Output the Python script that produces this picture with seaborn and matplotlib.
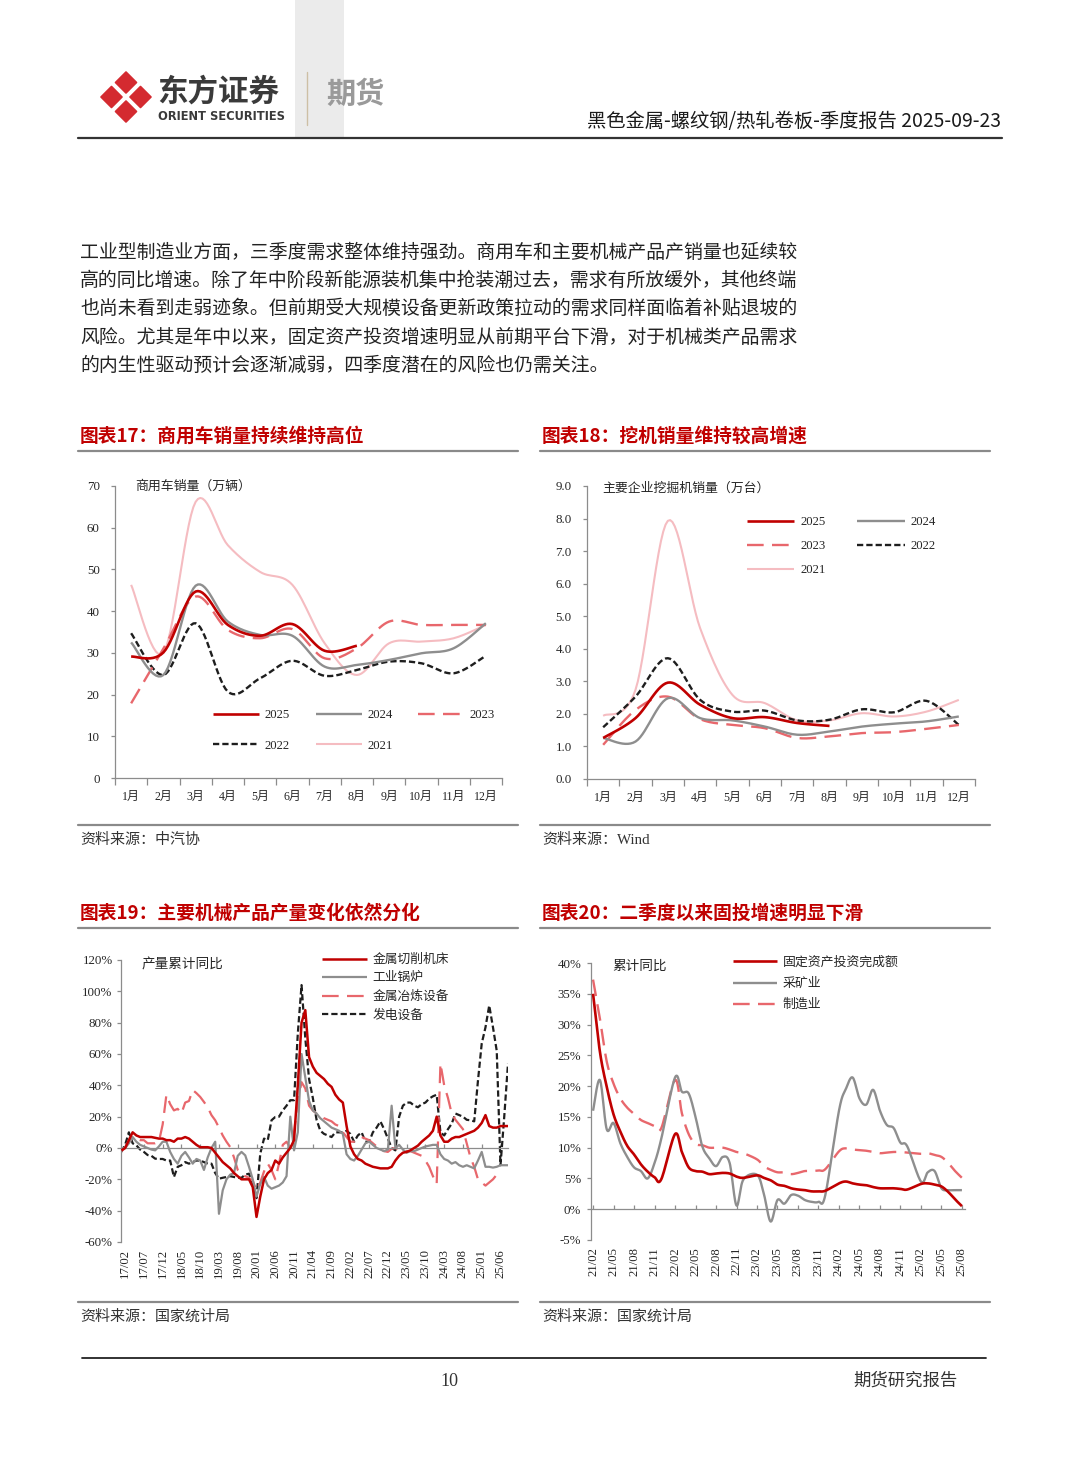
import numpy as np
import pandas as pd
import seaborn as sns
import matplotlib.pyplot as plt
from matplotlib.patches import Polygon, Rectangle

sns.set_theme(style='white')
plt.rcParams['font.family'] = ['Noto Sans CJK SC', 'DejaVu Sans']
plt.rcParams['axes.unicode_minus'] = False
plt.rcParams['lines.scale_dashes'] = False

CJK = ['Noto Sans CJK SC', 'DejaVu Sans']
SERIF = ['Liberation Serif', 'Noto Sans CJK SC']

C_RED = '#C00000'
C_GRAY = '#8E8E8E'
C_LRED = '#E8676C'
C_BLACK = '#1E1E1E'
C_PINK = '#F5BCC1'
C_AXIS = '#8C8C8C'
C_TEXT = '#262626'
nan = np.nan

# ---------------- 图表17：商用车销量（万辆）
months = ['1月', '2月', '3月', '4月', '5月', '6月', '7月', '8月', '9月', '10月', '11月', '12月']
truck_2025 = [29.1, 30.1, 44.7, 36.7, 34.1, 36.9, 30.5, 31.7]
truck_2024 = [32.5, 24.7, 46.1, 37.5, 34.3, 34.1, 26.7, 27.1, 28.3, 29.9, 31.1, 37.1]
truck_2023 = [17.9, 31.0, 43.5, 35.5, 33.5, 35.7, 28.7, 31.1, 37.5, 36.7, 36.7, 36.7]
truck_2022 = [34.7, 24.7, 37.1, 20.7, 23.9, 28.1, 24.5, 25.9, 27.9, 27.5, 25.1, 29.3]
truck_2021 = [46.3, 30.0, 66.2, 55.8, 49.4, 46.3, 32.3, 24.7, 32.3, 32.7, 33.5, 36.7]

# ---------------- 图表18：主要企业挖掘机销量（万台）
exc_2025 = [1.26, 1.87, 2.96, 2.28, 1.87, 1.90, 1.72, 1.63]
exc_2024 = [1.26, 1.15, 2.48, 1.87, 1.80, 1.61, 1.36, 1.46, 1.61, 1.70, 1.77, 1.92]
exc_2023 = [1.05, 2.12, 2.53, 1.84, 1.66, 1.56, 1.26, 1.31, 1.41, 1.44, 1.54, 1.66]
exc_2022 = [1.59, 2.53, 3.71, 2.43, 2.07, 2.10, 1.80, 1.82, 2.14, 2.05, 2.40, 1.66]
exc_2021 = [1.94, 2.74, 7.93, 4.63, 2.58, 2.33, 1.80, 1.80, 2.02, 1.92, 2.07, 2.43]

# ---------------- 图表19：产量累计同比（%），2017/01 - 2025/08
mach_dates = pd.date_range('2017-01-01', '2025-08-01', freq='MS')
machine_tool = [
    -1.5, 0, 5, 10, 8, 7, 7, 7, 7, 6.5, 6, 6,
    5, 5, 4, 6, 6, 7, 6, 4, 2, 0.5, 0.5, 0.5,
    0, -3, -6, -9, -11, -13, -16, -18, -20, -20, -20, -25,
    -44, -31, -20, -16, -14, -8, -10, -6, -3, 0, 5, 40,
    80, 88, 58, 52, 48, 46, 44, 41, 39, 34, 31, 29,
    14, 1, -4, -7, -8, -10, -11, -12, -12.5, -13, -13, -13,
    -12, -8, -5, -3, -2.5, -1.5, 0, 1.5, 4, 6, 8, 11,
    20, 8, 4, 4, 6, 7, 7, 8, 9, 10, 11, 13,
    16, 21, 14, 13, 13, 14, 14, 14]
boiler = [
    0, 0, 3, 7, 4, 2, 1, 0, -1, -1.5, 1, 4,
    4, -2.5, -7, -10, -5, -2.5, -6, -10, -7, -8, -14, -6,
    0, 4, -42, -27, -20, -17, -16, -5, -2.5, -4.7, -12, -20,
    -31, -23, -18.5, -24, -26, -25, -24, -22, -18, 20, -1.5, 10,
    60, 45, 30, 24, 22, 19, 17, 15, 13, 12, 11, 9,
    -4, -7, -8, -5, -1, 3, 4, 2, 0, -1, -2, -1,
    27, 0, 2, -1, -3, -2, -2, -1, 0, 1, 1.5, 2,
    2, -4, -7, -8, -10, -9, -11, -12, -11, -12, -13, -8,
    -2.5, -12, -12, -12.5, -12, -11, -11, -11]
smelting = [
    -2, 0, 5, 5, 6, 5, 5, 3, 3, 3, 4, 15,
    34, 28, 24, 25, 22, 29, 30, 37, 35, 32.6, 29.4, 26,
    21, 17.7, 13, 8, 4, 0.6, -6, -14, -17, -18, -19, -21,
    -27, -22, -15, -10, -14, -20, -10, 2, 4, 0, 10, 30,
    42, 38, 27, 24, 22, 21, 19, 18, 17, 15, 14, 10,
    7, 4, 4, 6, 7, 6, 5, 3, 1, -1, -2, -2.5,
    -0.5, 0, -1, -1.5, -2, -2, -3, -4, -5, -8, -12, -18,
    -23, 54, 40, 32, 22, 18, 15, 12, 3, -6, -12, -20,
    -22, -24, -22, -20, -17, -15, nan, nan]
power = [
    -2.5, 2, 10, 3, 1.7, -1, -2.5, -4.5, -5, -6.8, -7, -7,
    -8, -8, -18.5, -12, -11, -9, -10, -9, -8, -8, -9, -10,
    -10, -16, -19.6, -19, -18.5, -18, -18.5, -19, -19, -17, -16.4, -22.8,
    -32, -3.6, 6, 5, 17.7, 19.8, 20, 24, 27, 30.5, 30.5, 73,
    104, 70, 44, 32, 18, 11, 9, 8, 7, 10, 10, 10,
    11, 9, 4, 8, 10, 4, 4, 10, 13, 17, 12, 6,
    0, -1.5, 20, 27, 29, 29, 27, 26, 28, 29, 31.5, 33,
    34, 10, 8, 12, 15.5, 22, 21, 20, 18, 17.7, 17, 43,
    66.7, 77, 91, 77, 62, -11, 20, 54]

# ---------------- 图表20：累计同比（%），2021/02 - 2025/08（1月无数据）
fai_dates = pd.date_range('2021-02-01', '2025-08-01', freq='MS')
fai_total = [
    35.0, 25.6, 19.9, 15.4, 12.6, 10.3, 8.9, 7.3, 6.1, 5.2, 4.9,
    nan, 12.2, 9.3, 6.8, 6.2, 6.1, 5.7, 5.8, 5.9, 5.8, 5.3, 5.1,
    nan, 5.5, 5.1, 4.7, 4.0, 3.8, 3.4, 3.2, 3.1, 2.9, 2.9, 3.0,
    nan, 4.2, 4.5, 4.2, 4.0, 3.9, 3.6, 3.4, 3.4, 3.4, 3.3, 3.2,
    nan, 4.1, 4.2, 4.0, 3.7, 2.8, 1.6, 0.5]
fai_mining = [
    16, 21, 13, 14, 10.7, 8.5, 6.8, 6.2, 5, 7.5, 11.5,
    nan, 21.4, 19.1, 18.8, 15, 10.2, 8.3, 7, 8.5, 7.5, 0.6, 4.8,
    nan, 5.6, 2.5, -2, 1.5, 0.9, 2.3, 2.2, 1.5, 1.2, 1.2, 2.3,
    nan, 16, 19.5, 21.4, 18, 17, 19.4, 16, 13.7, 13.2, 10.8, 10.2,
    nan, 4.5, 6, 6.2, 3.4, 3.1, 3.1, 3.1]
fai_manu = [
    37.3, 31, 24, 20.4, 18, 16.5, 15.5, 14.5, 14, 13.5, 13.2,
    nan, 21, 15.6, 12.2, 10.6, 10.4, 10, 10, 10, 9.7, 9.3, 9.1,
    nan, 8.1, 7.0, 6.4, 6.0, 6.0, 5.7, 5.9, 6.2, 6.2, 6.3, 6.5,
    nan, 9.4, 9.9, 9.7, 9.6, 9.5, 9.3, 9.1, 9.2, 9.3, 9.3, 9.2,
    nan, 9.0, 9.1, 8.8, 8.5, 7.5, 6.2, 5.1]

paragraph = [
    '工业型制造业方面，三季度需求整体维持强劲。商用车和主要机械产品产销量也延续较',
    '高的同比增速。除了年中阶段新能源装机集中抢装潮过去，需求有所放缓外，其他终端',
    '也尚未看到走弱迹象。但前期受大规模设备更新政策拉动的需求同样面临着补贴退坡的',
    '风险。尤其是年中以来，固定资产投资增速明显从前期平台下滑，对于机械类产品需求',
    '的内生性驱动预计会逐渐减弱，四季度潜在的风险也仍需关注。',
]


def smooth(y, n=14):
    # Excel 风格的平滑线（Catmull-Rom），缺失月份直接连接
    y = np.asarray(y, dtype=float)
    x = np.arange(len(y), dtype=float)
    keep = ~np.isnan(y)
    P = np.column_stack([x[keep], y[keep]])
    P = np.vstack([P[0], P, P[-1]])
    t = np.linspace(0, 1, n, endpoint=False)[:, None]
    out = []
    for k in range(1, len(P) - 2):
        p0, p1, p2, p3 = P[k - 1], P[k], P[k + 1], P[k + 2]
        out.append(0.5 * (2 * p1 + (p2 - p0) * t + (2 * p0 - 5 * p1 + 4 * p2 - p3) * t ** 2
                          + (3 * p1 - p0 - 3 * p2 + p3) * t ** 3))
    out.append(P[-2][None, :])
    out = np.vstack(out)
    return out[:, 0], out[:, 1]


def raw(y):
    y = np.asarray(y, dtype=float)
    x = np.arange(len(y), dtype=float)
    keep = ~np.isnan(y)
    return x[keep], y[keep]


def draw(ax, xy, color, lw, label, dashes=None, z=2):
    x, y = xy
    sns.lineplot(x=x, y=y, ax=ax, color=color, linewidth=lw, sort=False,
                 estimator=None, legend=False, label=label, zorder=z)
    line = ax.lines[-1]
    line.set_solid_capstyle('butt')
    if dashes:
        line.set_dashes(dashes)
    return line


fig = plt.figure(figsize=(10.8, 14.66), dpi=100, facecolor='white')
page = fig.add_axes([0, 0, 1, 1])
page.set_xlim(0, 1080)
page.set_ylim(1466, 0)
page.axis('off')


def add_ax(l, t, r, b):
    ax = fig.add_axes([l / 1080, 1 - b / 1466, (r - l) / 1080, (b - t) / 1466])
    ax.set_facecolor('none')
    for s in ['top', 'right']:
        ax.spines[s].set_visible(False)
    for s in ['left', 'bottom']:
        ax.spines[s].set_color(C_AXIS)
        ax.spines[s].set_linewidth(0.9)
    return ax


# ---------------- 页眉
page.add_patch(Rectangle((295, 0), 49, 137, color='#EBEBEB', lw=0))
cx, cy, h, off = 126, 97, 10.5, 14.5
for dx, dy in [(0, -off), (-off, 0), (off, 0), (0, off)]:
    x0, y0 = cx + dx, cy + dy
    page.add_patch(Polygon([(x0, y0 - h), (x0 + h, y0), (x0, y0 + h), (x0 - h, y0)], closed=True,
                           fc='#D42A30', ec='#D42A30', lw=1.2, joinstyle='round'))
page.text(157, 92, '东方证券', fontsize=22, fontweight='bold', color='#3A3A3A', va='center', ha='left')
page.text(158, 117, 'ORIENT SECURITIES', fontsize=8.3, fontweight='bold', color='#3A3A3A',
          va='center', ha='left', family=['DejaVu Sans'])
page.plot([307, 307], [72, 125], color='#CDBFA5', lw=1)
page.text(326, 94, '期货', fontsize=21, fontweight='bold', color='#9A9A9A', va='center', ha='left')
page.text(1001, 122, '黑色金属-螺纹钢/热轧卷板-季度报告 2025-09-23', fontsize=13.9, color='#1A1A1A',
          va='center', ha='right')
page.plot([78, 1002], [137.5, 137.5], color='#333333', lw=1.6)

# ---------------- 正文
for k, line in enumerate(paragraph):
    page.text(80, 252 + 28.3 * k, line, fontsize=13.6, color='#222222', va='center', ha='left')

# ---------------- 标题、分隔线、来源
titles = [(80, 436, '图表17：商用车销量持续维持高位'), (542, 436, '图表18：挖机销量维持较高增速'),
          (80, 913, '图表19：主要机械产品产量变化依然分化'), (542, 913, '图表20：二季度以来固投增速明显下滑')]
for x, y, s in titles:
    page.text(x, y, s, fontsize=13.5, fontweight='bold', color=C_RED, va='center', ha='left')
for y in [451, 825, 928, 1302]:
    page.plot([78, 518], [y, y], color='#8A8A8A', lw=1.6)
    page.plot([540, 990], [y, y], color='#8A8A8A', lw=1.6)
sources = [(80, 840, '资料来源：中汽协'), (542, 840, '资料来源：Wind'),
           (80, 1317, '资料来源：国家统计局'), (542, 1317, '资料来源：国家统计局')]
for x, y, s in sources:
    page.text(x, y, s, fontsize=10.8, color='#333333', va='center', ha='left',
              family=['Liberation Serif', 'Noto Sans CJK SC'] if 'Wind' in s else CJK)

# ---------------- 页脚
page.plot([82, 986], [1358, 1358], color='#222222', lw=1.3)
page.text(449, 1381, '10', fontsize=13, color='#333333', va='center', ha='center', family=SERIF)
page.text(905, 1381, '期货研究报告', fontsize=12.5, color='#333333', va='center', ha='center')


def legend_at(ax, handles, x, y, ncol, fs, family, hl, cs, ls):
    leg = ax.legend(handles=handles, loc='upper left', bbox_to_anchor=(x, y),
                    bbox_transform=page.transData, ncol=ncol, frameon=False, borderpad=0,
                    borderaxespad=0, handlelength=hl, handletextpad=0.45, columnspacing=cs,
                    labelspacing=ls, prop={'family': family, 'size': fs})
    for t in leg.get_texts():
        t.set_color(C_TEXT)
    return leg


def month_axis(ax, ymax, step, fmt):
    ax.set_xlim(-0.5, 11.5)
    ax.set_ylim(0, ymax)
    ax.set_xticks(range(12))
    ax.set_xticklabels(months, family=SERIF, fontsize=8.6, color=C_TEXT)
    ax.set_xticks(np.arange(-0.5, 12, 1), minor=True)
    ax.tick_params(axis='x', which='major', length=0, pad=9)
    ax.tick_params(axis='x', which='minor', length=5, width=0.9, color=C_AXIS, direction='out', bottom=True)
    ticks = np.arange(0, ymax + step / 2, step)
    ax.set_yticks(ticks)
    ax.set_yticklabels([fmt.format(v) for v in ticks], family=SERIF, fontsize=9.3, color=C_TEXT)
    ax.tick_params(axis='y', length=3, width=0.9, color=C_AXIS, direction='out', left=True, pad=8)


# ---------------- 图表17
ax1 = add_ax(115, 486, 502, 778)
h21 = draw(ax1, smooth(truck_2021), C_PINK, 1.5, '2021', z=1)
h22 = draw(ax1, smooth(truck_2022), C_BLACK, 1.7, '2022', dashes=(4.5, 2.2))
h23 = draw(ax1, smooth(truck_2023), C_LRED, 1.7, '2023', dashes=(12, 6))
h24 = draw(ax1, smooth(truck_2024), C_GRAY, 1.7, '2024')
h25 = draw(ax1, smooth(truck_2025), C_RED, 1.9, '2025', z=3)
month_axis(ax1, 70, 10, '{:.0f}')
ax1.text(135, 486, '商用车销量（万辆）', transform=page.transData, fontsize=9.3, color=C_TEXT, va='center')
legend_at(ax1, [h25, h22, h24, h21, h23], 213, 709, 3, 9.2, SERIF, 3.6, 2.0, 1.45)

# ---------------- 图表18
ax2 = add_ax(587, 486, 975, 779)
e21 = draw(ax2, smooth(exc_2021), C_PINK, 1.5, '2021', z=1)
e22 = draw(ax2, smooth(exc_2022), C_BLACK, 1.7, '2022', dashes=(4.5, 2.2))
e23 = draw(ax2, smooth(exc_2023), C_LRED, 1.7, '2023', dashes=(12, 6))
e24 = draw(ax2, smooth(exc_2024), C_GRAY, 1.7, '2024')
e25 = draw(ax2, smooth(exc_2025), C_RED, 1.9, '2025', z=3)
month_axis(ax2, 9, 1, '{:.1f}')
ax2.text(602, 488, '主要企业挖掘机销量（万台）', transform=page.transData, fontsize=9.3, color=C_TEXT, va='center')
legend_at(ax2, [e25, e23, e21, e24, e22], 747, 516, 2, 9.2, SERIF, 3.7, 2.5, 0.95)


def date_axis(ax, dates, first, every, lo, hi, step, pad):
    ax.set_ylim(lo, hi)
    ticks = np.arange(lo, hi + step / 2, step)
    ax.set_yticks(ticks)
    ax.set_yticklabels([f'{v:.0f}%' for v in ticks], family=SERIF, fontsize=9.3, color=C_TEXT)
    ax.tick_params(axis='y', length=3, width=0.9, color=C_AXIS, direction='out', left=True, pad=pad)
    pos = np.arange(first, len(dates), every)
    ax.spines['bottom'].set_position(('data', 0))
    ax.set_xticks(pos)
    ax.tick_params(axis='x', length=3, width=0.9, color=C_AXIS, direction='in', bottom=True,
                   labelbottom=False)
    sec = ax.secondary_xaxis('bottom')
    sec.set_xticks(pos)
    sec.set_xticklabels([dates[p].strftime('%y/%m') for p in pos], rotation=90,
                        family=SERIF, fontsize=9.2, color=C_TEXT)
    sec.tick_params(length=0, pad=5)
    sec.spines['bottom'].set_visible(False)


# ---------------- 图表19
ax3 = add_ax(121, 960, 508, 1242)
ax3.set_xlim(-0.1, 103)
m4 = draw(ax3, raw(power), C_BLACK, 1.6, '发电设备', dashes=(4.5, 2.2))
m3 = draw(ax3, raw(smelting), C_LRED, 1.6, '金属冶炼设备', dashes=(12, 6))
m2 = draw(ax3, raw(boiler), C_GRAY, 1.6, '工业锅炉')
m1 = draw(ax3, raw(machine_tool), C_RED, 1.8, '金属切削机床', z=3)
date_axis(ax3, mach_dates, 1, 5, -60, 120, 20, 3)
ax3.text(142, 965, '产量累计同比', transform=page.transData, fontsize=9.8, color=C_TEXT, va='center')
legend_at(ax3, [m1, m2, m3, m4], 322, 953, 1, 9.2, CJK, 3.5, 1, 0.43)

# ---------------- 图表20
ax4 = add_ax(591, 963, 965, 1240)
ax4.set_xlim(-0.3, 54.45)
f3 = draw(ax4, smooth(fai_manu), C_LRED, 1.7, '制造业', dashes=(12, 6))
f2 = draw(ax4, smooth(fai_mining), C_GRAY, 1.7, '采矿业')
f1 = draw(ax4, smooth(fai_total), C_RED, 1.9, '固定资产投资完成额', z=3)
date_axis(ax4, fai_dates, 0, 3, -5, 40, 5, 4)
ax4.text(612, 966, '累计同比', transform=page.transData, fontsize=9.8, color=C_TEXT, va='center')
legend_at(ax4, [f1, f2, f3], 733, 956, 1, 9.3, CJK, 3.4, 1, 0.63)

fig.savefig('out.png', dpi=100, facecolor='white')
